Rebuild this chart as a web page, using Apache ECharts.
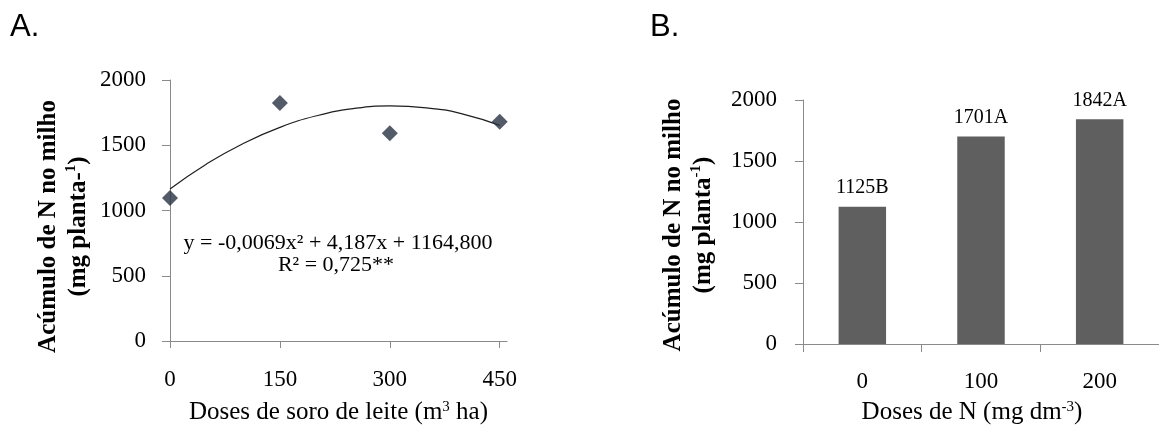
<!DOCTYPE html>
<html>
<head>
<meta charset="utf-8">
<script src="https://cdn.jsdelivr.net/npm/echarts@6/dist/echarts.min.js"></script>
<style>
html,body{margin:0;padding:0;background:#fff;}
#chart{width:1159px;height:430px;}
</style>
</head>
<body>
<div id="chart"></div>
<script>
// ---- Panel A data ----
const panelTitleA = 'A.';
const dosesA = [0, 150, 300, 450];
const observedA = [1095, 1823, 1592, 1681];
const trendX = [0, 50, 100, 150, 200, 250, 300, 350, 400, 450];
const trendY = [1165, 1357, 1514, 1637, 1726, 1781, 1801, 1787, 1739, 1652];
const xTicksA = [0, 150, 300, 450];
const equationText = 'y = -0,0069x² + 4,187x + 1164,800';
const r2Text = 'R² = 0,725**';

// ---- Panel B data ----
const panelTitleB = 'B.';
const dosesB = ['0', '100', '200'];
const valuesB = [1125, 1701, 1842];
const lettersB = ['B', 'A', 'A'];

// ---- shared ----
const yTicks = [0, 500, 1000, 1500, 2000];

const serif = "'Liberation Serif', 'Times New Roman', serif";
const sans = "'Liberation Sans', Arial, sans-serif";
const axisGray = '#8a8a8a';
const supStyle = { fontSize: 15, fontFamily: serif, color: '#000', verticalAlign: 'top' };
const supBold = { fontSize: 15, fontFamily: serif, fontWeight: 'bold', color: '#000', verticalAlign: 'top' };
const plain = (v) => String(v);

function valueYAxis(gridIndex, extra) {
  return Object.assign({
    gridIndex: gridIndex,
    type: 'value',
    min: yTicks[0],
    max: yTicks[yTicks.length - 1],
    interval: yTicks[1] - yTicks[0],
    axisLine: { show: true, lineStyle: { color: axisGray, width: 1 } },
    axisTick: { show: true, inside: false, length: 8, lineStyle: { color: axisGray } },
    splitLine: { show: false },
    nameLocation: 'middle',
    nameRotate: 90
  }, extra);
}

const chart = echarts.init(document.getElementById('chart'), null, { renderer: 'canvas' });

const option = {
  backgroundColor: '#ffffff',
  animation: false,
  title: [
    { text: panelTitleA, left: 10, top: 12, padding: 0,
      textStyle: { fontSize: 31, fontWeight: 'normal', fontFamily: sans, color: '#000' } },
    { text: panelTitleB, left: 650, top: 12, padding: 0,
      textStyle: { fontSize: 31, fontWeight: 'normal', fontFamily: sans, color: '#000' } }
  ],
  grid: [
    { left: 170, top: 80, right: 652, bottom: 81, containLabel: false },
    { left: 803, top: 100, right: -10, bottom: 86, containLabel: false }
  ],
  xAxis: [
    {
      gridIndex: 0,
      type: 'value',
      min: 0,
      max: 460,
      interval: 150,
      axisLine: { show: true, onZero: false, lineStyle: { color: axisGray, width: 1 } },
      axisTick: { show: true, length: 7, customValues: xTicksA, lineStyle: { color: axisGray } },
      axisLabel: { customValues: xTicksA, margin: 27, fontSize: 23, fontFamily: serif, color: '#000', formatter: plain },
      splitLine: { show: false },
      name: 'Doses de soro de leite (m{sup|3} ha)',
      nameLocation: 'middle',
      nameGap: 59,
      nameTextStyle: { fontSize: 25, fontFamily: serif, color: '#000', rich: { sup: supStyle } }
    },
    {
      gridIndex: 1,
      type: 'category',
      data: dosesB,
      boundaryGap: true,
      axisLine: { show: true, onZero: false, lineStyle: { color: axisGray, width: 1 } },
      axisTick: { show: true, length: 8, alignWithLabel: false, lineStyle: { color: axisGray } },
      axisLabel: { margin: 26, fontSize: 23, fontFamily: serif, color: '#000' },
      splitLine: { show: false },
      name: 'Doses de N (mg dm{sup|-3})',
      nameLocation: 'middle',
      nameGap: 56,
      nameTextStyle: { fontSize: 25, fontFamily: serif, color: '#000', padding: [0, 18, 0, 0], rich: { sup: supStyle } }
    }
  ],
  yAxis: [
    valueYAxis(0, {
      axisLabel: { margin: 24, fontSize: 23, fontFamily: serif, color: '#000', formatter: plain },
      name: 'Acúmulo de N no milho\n(mg planta-{supb|1})',
      nameGap: 76,
      nameTextStyle: { fontSize: 25, fontWeight: 'bold', fontFamily: serif, color: '#000', lineHeight: 30,
        padding: [0, 32, 0, 0], rich: { supb: supBold } }
    }),
    valueYAxis(1, {
      axisLabel: { margin: 26, fontSize: 23, fontFamily: serif, color: '#000', formatter: plain },
      name: 'Acúmulo de N no milho\n(mg planta{supb|-1})',
      nameGap: 84,
      nameTextStyle: { fontSize: 25, fontWeight: 'bold', fontFamily: serif, color: '#000', lineHeight: 30,
        padding: [0, 6, 0, 0], rich: { supb: supBold } }
    })
  ],
  graphic: [
    { type: 'text', style: { text: equationText, x: 338, y: 243, align: 'center', verticalAlign: 'middle',
        font: "22px 'Liberation Serif', serif", fill: '#000' } },
    { type: 'text', style: { text: r2Text, x: 336, y: 265, align: 'center', verticalAlign: 'middle',
        font: "22px 'Liberation Serif', serif", fill: '#000' } }
  ],
  series: [
    {
      name: 'Tendência',
      type: 'line',
      xAxisIndex: 0, yAxisIndex: 0,
      data: trendX.map((x, i) => [x, trendY[i]]),
      smooth: true,
      showSymbol: false,
      symbol: 'none',
      lineStyle: { color: '#1e1e1e', width: 1.2 },
      z: 2
    },
    {
      name: 'Observado',
      type: 'scatter',
      xAxisIndex: 0, yAxisIndex: 0,
      data: dosesA.map((x, i) => [x, observedA[i]]),
      symbol: 'diamond',
      symbolSize: 16,
      itemStyle: { color: '#283242' },
      z: 3
    },
    {
      name: 'Acúmulo',
      type: 'bar',
      xAxisIndex: 1, yAxisIndex: 1,
      data: valuesB,
      barWidth: '40%',
      itemStyle: { color: '#5f5f5f' },
      label: {
        show: true,
        position: 'top',
        distance: 9,
        fontSize: 20,
        fontFamily: serif,
        color: '#000',
        formatter: (p) => valuesB[p.dataIndex] + lettersB[p.dataIndex]
      }
    }
  ]
};

chart.setOption(option);
</script>
</body>
</html>
